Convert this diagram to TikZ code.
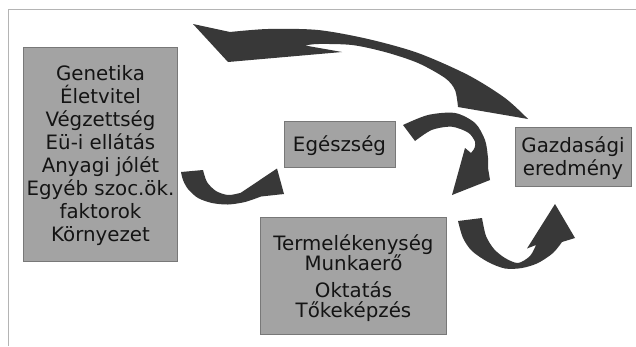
\documentclass[tikz,border=0pt]{standalone}
\usepackage{fontspec}
\setmainfont{DejaVu Sans}
\definecolor{boxfill}{RGB}{163,163,163}
\definecolor{boxline}{RGB}{120,120,120}
\definecolor{arrowfill}{RGB}{56,56,56}
\definecolor{framegray}{RGB}{180,180,180}
\definecolor{txtcol}{RGB}{20,20,20}
\begin{document}
\begin{tikzpicture}[x=1pt,y=-1pt,
  boxnode/.style={draw=boxline,fill=boxfill,line width=1pt,inner sep=0pt,outer sep=0pt},
  txt/.style={text=txtcol,align=center,inner sep=0pt,font=\fontsize{19.8}{23.1}\selectfont},
  ribbon/.style={fill=arrowfill,draw=none}]
\useasboundingbox (0,0) rectangle (636,346);
\fill[white] (0,0) rectangle (636,346);
% frame
\draw[framegray,line width=1pt] (8,346) -- (8,9) -- (636,9);
% boxes
\node[boxnode,minimum width=154.4pt,minimum height=214pt] (gen) at (100.5,154.7) {};
\node[boxnode,minimum width=111pt,minimum height=46pt] (egs) at (339.5,144) {};
\node[boxnode,minimum width=116pt,minimum height=59pt] (gaz) at (573,156.5) {};
\node[boxnode,minimum width=185.6pt,minimum height=116.6pt] (ter) at (353.5,276) {};
% texts
\node[txt] (gentxt) at (100.5,155.6) {Genetika\\Életvitel\\Végzettség\\Eü-i ellátás\\Anyagi jólét\\Egyéb szoc.ök.\\faktorok\\Környezet};
\node[txt] (egstxt) at (339.5,145.5) {Egészség};
\node[txt,font=\fontsize{19.8}{22.7}\selectfont] (gaztxt) at (573,158.3) {Gazdasági\\eredmény};
\node[txt,font=\fontsize{19.8}{20}\selectfont] (tertxt) at (353.5,278) {Termelékenység\\Munkaerő\\[6.7pt]Oktatás\\Tőkeképzés};
% big top arrow (Gazdasagi -> back to left)
\fill[ribbon] (193,24) -- (230,32)
  -- plot[smooth] coordinates {(230,32) (268,29) (318,30) (368,39) (418,53) (468,75) (505,98) (528,119)}
  -- (458,107)
  -- plot[smooth] coordinates {(458,107) (455,90) (445,78) (418,63) (385,52) (352,45) (318,44) (305,45.5)}
  -- (342,52) -- (228,62) -- cycle;
% arrow A (Genetika -> Egeszseg)
\fill[ribbon] (181,172) -- (203,170)
  -- plot[smooth] coordinates {(203,170) (207,182) (216,191) (228,195) (240,193) (247,190.5)}
  -- (239,194) -- (277,168.5) -- (284,194) -- (261,196.5)
  -- plot[smooth] coordinates {(261,196.5) (245,202) (228,204.5) (212,203) (198,198) (188,189) (183,180) (181,172)}
  -- cycle;
% arrow B (Egeszseg -> down)
\fill[ribbon] (403,125)
  -- plot[smooth] coordinates {(403,125) (428,115) (455,113) (475,123) (485,140) (488,158) (488,168)}
  -- (490,180) -- (452,195) -- (465,148) -- (471,153)
  -- plot[smooth] coordinates {(471,153) (474.5,148) (475,141.7) (468.3,132.7) (451.7,126.7) (431.7,130) (415,141)}
  -- cycle;
% arrow C (Termelekenyseg -> Gazdasagi)
\fill[ribbon] (458,221) -- (482,218)
  -- plot[smooth] coordinates {(482,218) (486,236) (494,249) (505,258) (518,263) (530,256) (536,245)}
  -- (527,248.5) -- (555,204) -- (575,238) -- (562,242)
  -- plot[smooth] coordinates {(562,242) (553,253) (538,263) (522,268) (505,268.5) (488,262) (472,251) (463,238) (458,221)}
  -- cycle;
\end{tikzpicture}
\end{document}
